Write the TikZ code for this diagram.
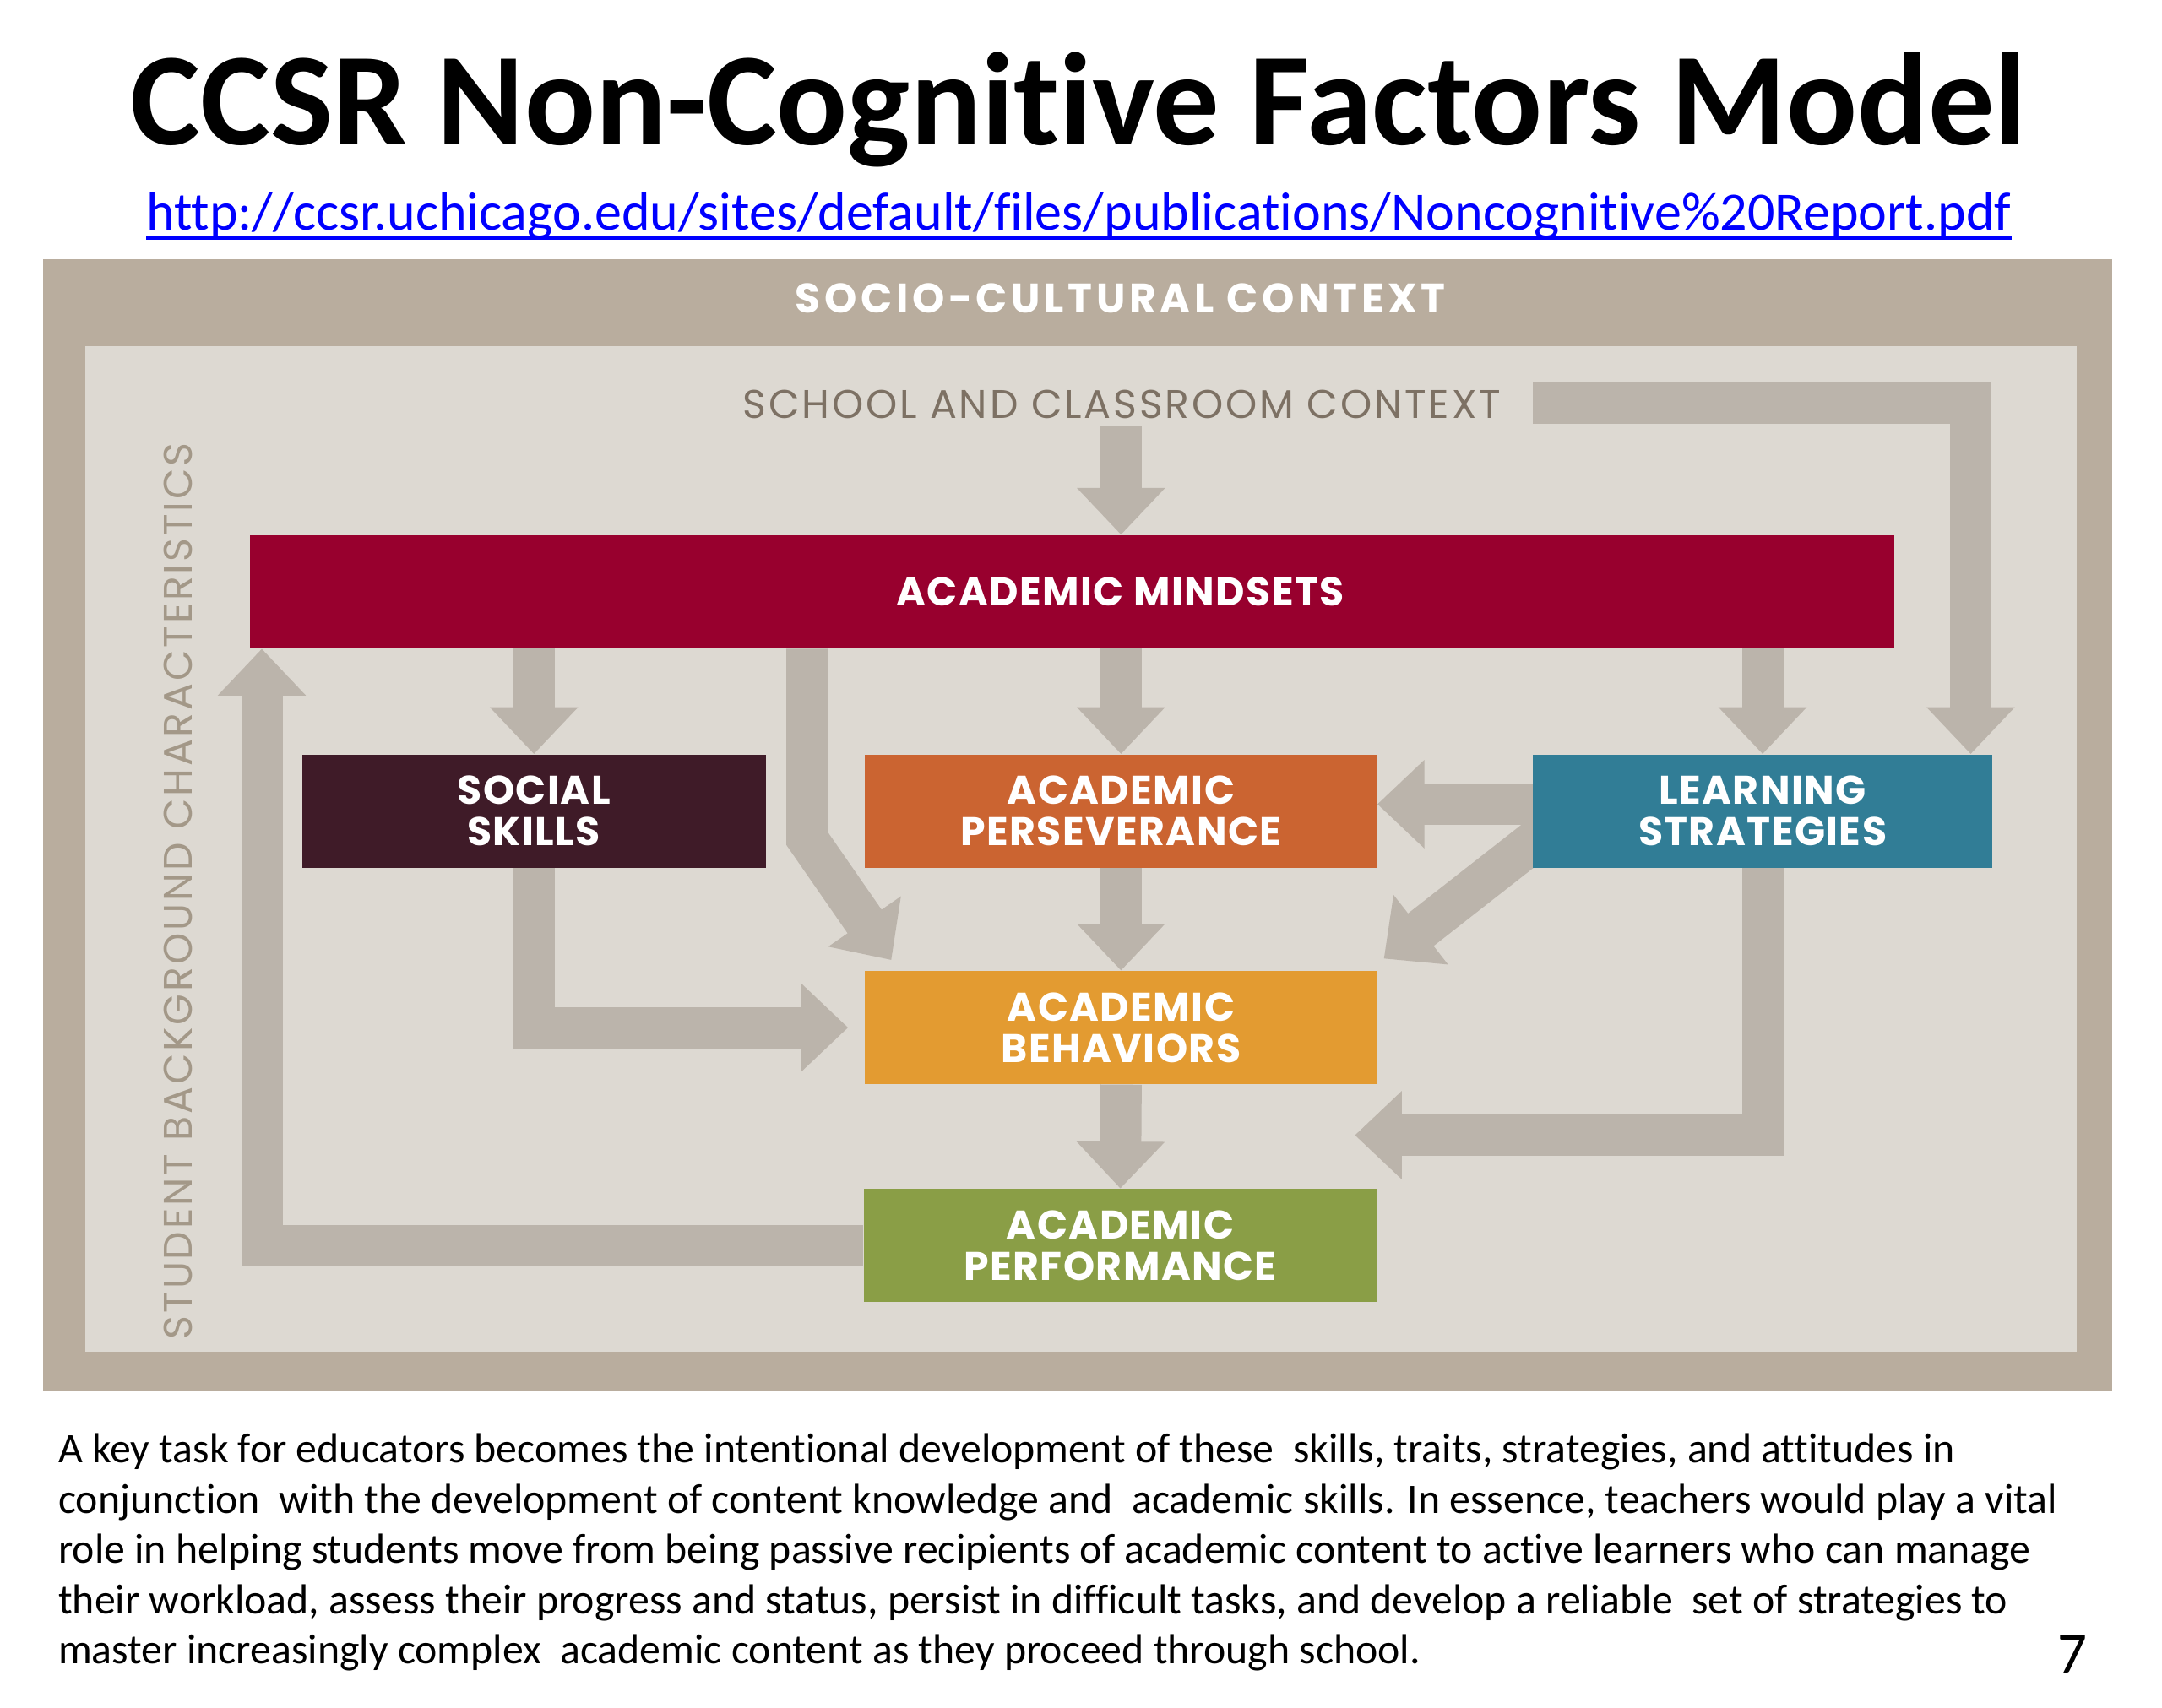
\documentclass[tikz,border=0pt]{standalone}
\usepackage{fontspec}
\setmainfont{Carlito}[Ligatures=NoCommon]
\newfontfamily\boxfont{Poppins}[LetterSpace=3]
\newfontfamily\socfont{Poppins}[LetterSpace=9.5]
\newfontfamily\ctxfont{Poppins}[LetterSpace=6]
\usetikzlibrary{arrows.meta}
\definecolor{frameouter}{HTML}{B9AD9E}
\definecolor{frameinner}{HTML}{DDD9D2}
\definecolor{flowgray}{HTML}{BBB4AB}
\definecolor{ctxbrown}{HTML}{7D7164}
\definecolor{studenttan}{HTML}{A39888}
\definecolor{mindsetred}{HTML}{98002E}
\definecolor{socialplum}{HTML}{3F1B28}
\definecolor{persevorange}{HTML}{CB6431}
\definecolor{strategyteal}{HTML}{317D96}
\definecolor{behavorange}{HTML}{E39B31}
\definecolor{performgreen}{HTML}{8A9E46}
\definecolor{urlblue}{HTML}{0000FF}
\pgfdeclarelayer{back}
\pgfdeclarelayer{flows}
\pgfsetlayers{back,flows,main}
\tikzset{
  box/.style={rectangle, inner sep=0pt, minimum height=1.64cm, text=white, align=center,
    font=\boxfont\bfseries\fontsize{16.5}{17}\selectfont},
  flow/.style={draw=flowgray, line width=0.6cm, -{Triangle[width=1.24cm,length=0.68cm]}},
}
\begin{document}
\begin{tikzpicture}[x=0.02cm,y=-0.02cm]
	\useasboundingbox (0,0) rectangle (1567,1237.8);
	% heading
	\node[anchor=base, font=\bfseries\fontsize{54.5}{60}\selectfont] (title) at (782,105) {CCSR Non-Cognitive Factors Model};
	\node[anchor=base, inner sep=0pt, text=urlblue, font=\fontsize{22.3}{26}\selectfont] (url) at (782,167) {http://ccsr.uchicago.edu/sites/default/files/publications/Noncognitive\%20Report.pdf};
	\draw[urlblue, line width=1.6pt] ([yshift=-3pt]url.base west) -- ([yshift=-3pt]url.base east);
	% frames
	\begin{pgfonlayer}{back}
		\fill[frameouter] (31,188) rectangle (1531,1008);
		\fill[frameinner] (62,251) rectangle (1505,980);
	\end{pgfonlayer}
	\node[anchor=base, text=white, font=\socfont\bfseries\fontsize{17}{20}\selectfont] (socio) at (812,227) {SOCIO-CULTURAL CONTEXT};
	\node[anchor=base, text=ctxbrown, font=\ctxfont\fontsize{16.5}{19}\selectfont] (school) at (813,303) {SCHOOL AND CLASSROOM CONTEXT};
	\node[anchor=base, rotate=90, text=studenttan, font=\ctxfont\fontsize{16.5}{19}\selectfont] (student) at (139,646) {STUDENT BACKGROUND CHARACTERISTICS};
	% factors
	\node[box, fill=mindsetred, minimum width=23.84cm] (mindsets) at (777,429) {\hspace*{1.4cm}ACADEMIC MINDSETS};
	\node[box, fill=socialplum, minimum width=6.72cm] (social) at (387,588) {SOCIAL\\SKILLS};
	\node[box, fill=persevorange, minimum width=7.42cm] (persev) at (812.5,588) {ACADEMIC\\PERSEVERANCE};
	\node[box, fill=strategyteal, minimum width=6.66cm] (strat) at (1277.5,588) {LEARNING\\STRATEGIES};
	\node[box, fill=behavorange, minimum width=7.42cm] (behav) at (812.5,745) {ACADEMIC\\BEHAVIORS};
	\node[box, fill=performgreen, minimum width=7.44cm] (perform) at (812,903) {ACADEMIC\\PERFORMANCE};
	\coordinate (ctxtail) at (1111,292);
	\coordinate (mindkink) at (585,608);
	\coordinate (behavtip) at (646,696);
	\coordinate (sidelevel) at (0,583);
	\coordinate (strattail) at (1118,605);
	\coordinate (strattip) at (1003,695);
	\coordinate (gaptip) at (982,823);
	% arrows
	\begin{pgfonlayer}{flows}
		\draw[flow] (persev.north |- school.south) -- (persev.north |- mindsets.north);
		\draw[flow] (ctxtail) -| ([xshift=-0.32cm]strat.north east);
		\draw[flow] (social.north |- mindsets.south) -- (social.north);
		\draw[flow] (persev.north |- mindsets.south) -- (persev.north);
		\draw[flow] (strat.north |- mindsets.south) -- (strat.north);
		\draw[flow] (mindkink |- mindsets.south) -- (mindkink) -- (behavtip);
		\draw[flow] (strat.west |- sidelevel) -- (persev.east |- sidelevel);
		\draw[flow] (strattail) -- (strattip);
		\draw[flow] (persev.south) -- (behav.north);
		\draw[flow] (social.south) |- ([xshift=-0.24cm]behav.west);
		\draw[flow] (behav.south) -- (perform.north);
		\draw[flow] (strat.south) |- (gaptip);
		\draw[flow] (perform.west) -| ([xshift=0.18cm]mindsets.south west);
	\end{pgfonlayer}
	% caption
	\node[anchor=north west, align=left, inner sep=0pt, font=\fontsize{17.35}{20.75}\selectfont] (caption) at (42,1039)
		{A key task for educators becomes the intentional development of these\ \ skills, traits, strategies, and attitudes in\\
		conjunction\ \ with the development of content knowledge and\ \ academic skills. In essence, teachers would play a vital\\
		role in helping students move from being passive recipients of academic content to active learners who can manage\\
		their workload, assess their progress and status, persist in difficult tasks, and develop a reliable\ \ set of strategies to\\
		master increasingly complex\ \ academic content as they proceed through school.};
	\node[anchor=base, font=\fontsize{24}{28}\selectfont] (page) at (1502,1213) {7};
\end{tikzpicture}
\end{document}
